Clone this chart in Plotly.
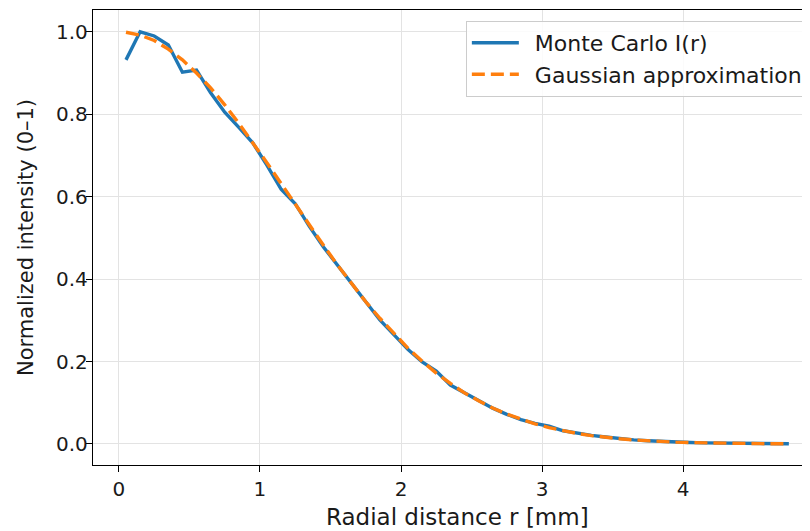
import plotly.graph_objects as go

r_mm = [0.05, 0.15, 0.25, 0.35, 0.45, 0.55, 0.65, 0.75, 0.85, 0.95,
        1.05, 1.15, 1.25, 1.35, 1.45, 1.55, 1.65, 1.75, 1.85, 1.95,
        2.05, 2.15, 2.25, 2.35, 2.45, 2.55, 2.65, 2.75, 2.85, 2.95,
        3.05, 3.15, 3.25, 3.35, 3.45, 3.55, 3.65, 3.75, 3.85, 3.95,
        4.05, 4.15, 4.25, 4.35, 4.45, 4.55, 4.65, 4.75]

monte_carlo = [0.932, 1.000, 0.990, 0.968, 0.902, 0.907, 0.852, 0.805, 0.768, 0.730,
               0.676, 0.618, 0.583, 0.528, 0.478, 0.433, 0.387, 0.345, 0.301, 0.266,
               0.229, 0.199, 0.177, 0.143, 0.124, 0.104, 0.087, 0.072, 0.059, 0.050,
               0.043, 0.032, 0.026, 0.021, 0.017, 0.013, 0.010, 0.008, 0.006, 0.005,
               0.0035, 0.0027, 0.0020, 0.0014, 0.0011, 0.0008, 0.0006, 0.0004]

gaussian = [0.999, 0.992, 0.979, 0.958, 0.932, 0.900, 0.864, 0.823, 0.778, 0.731,
            0.682, 0.632, 0.581, 0.531, 0.482, 0.434, 0.389, 0.345, 0.305, 0.267,
            0.232, 0.201, 0.172, 0.147, 0.124, 0.105, 0.0873, 0.0724, 0.0596, 0.0487,
            0.0396, 0.0319, 0.0255, 0.0203, 0.0160, 0.0126, 0.0098, 0.0076, 0.0058, 0.0044,
            0.0034, 0.0025, 0.0019, 0.0014, 0.0010, 0.0008, 0.0005, 0.0004]

series_names = ["Monte Carlo I(r)", "Gaussian approximation"]
x_ticks = [0, 1, 2, 3, 4]
y_ticks = [0.0, 0.2, 0.4, 0.6, 0.8, 1.0]
y_tick_labels = ["0.0", "0.2", "0.4", "0.6", "0.8", "1.0"]

FONT = "DejaVu Sans, Arial, sans-serif"
TXT = "#1a1a1a"
GAP = "\u2002"  # extra space between legend line sample and label

fig = go.Figure()
fig.add_trace(go.Scatter(
    x=r_mm, y=monte_carlo, mode="lines", name=GAP + series_names[0],
    line=dict(color="#1f77b4", width=3.4),
))
fig.add_trace(go.Scatter(
    x=r_mm, y=gaussian, mode="lines", name=GAP + series_names[1],
    line=dict(color="#ff7f0e", width=3.4, dash="13px,6px"),
))

# The page body has an 8px margin, so the figure is sized/offset to compensate.
fig.update_layout(
    width=802, height=523,
    margin=dict(l=85, r=0, t=2, b=66),
    paper_bgcolor="white", plot_bgcolor="white",
    font=dict(family=FONT, size=20, color=TXT),
    showlegend=True,
    legend=dict(
        x=0.997, y=0.976, xanchor="right", yanchor="top",
        bgcolor="rgba(255,255,255,0.85)", bordercolor="#cccccc", borderwidth=1,
        font=dict(family=FONT, size=22, color=TXT),
        itemwidth=47, tracegroupgap=2,
    ),
    xaxis=dict(
        range=[-0.184, 4.90],
        tickvals=x_ticks, ticktext=[str(t) for t in x_ticks],
        ticks="outside", ticklen=6, tickwidth=1.3, tickcolor="black",
        showline=True, linecolor="black", linewidth=1.3, mirror=True,
        showgrid=True, gridcolor="#e3e3e3", gridwidth=1.2,
        zeroline=False,
        tickfont=dict(family=FONT, size=20, color=TXT),
    ),
    yaxis=dict(
        range=[-0.051, 1.053],
        tickvals=y_ticks, ticktext=y_tick_labels,
        ticks="outside", ticklen=6, tickwidth=1.3, tickcolor="black",
        ticklabelstandoff=-6,
        showline=True, linecolor="black", linewidth=1.3, mirror=False,
        showgrid=True, gridcolor="#e3e3e3", gridwidth=1.2,
        zeroline=False,
        tickfont=dict(family=FONT, size=20, color=TXT),
        title=dict(text="Normalized intensity (0–1)", standoff=16,
                   font=dict(family=FONT, size=21, color=TXT)),
    ),
    annotations=[dict(
        text="Radial distance r [mm]", xref="paper", yref="paper",
        x=0.508, y=0, yshift=-52, xanchor="center", yanchor="middle",
        showarrow=False, font=dict(family=FONT, size=23, color=TXT),
    )],
)

fig.write_html("out.html")
